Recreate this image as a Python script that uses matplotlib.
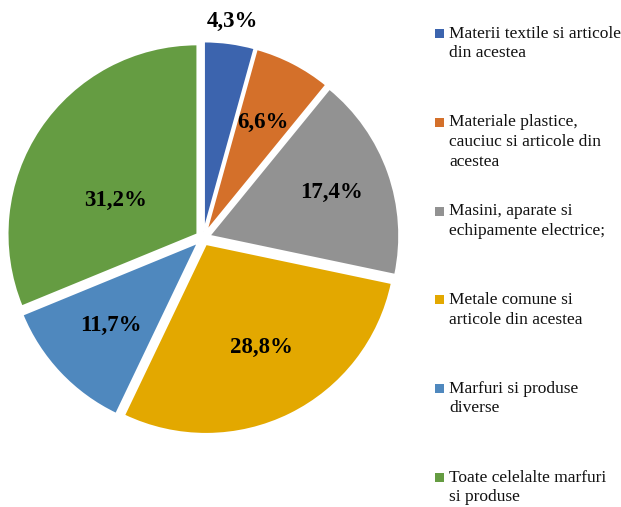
import numpy as np
import matplotlib.pyplot as plt
from matplotlib.patches import Rectangle

plt.rcParams['font.family'] = ['Liberation Serif', 'DejaVu Serif']

# Date: structura pe grupe de marfuri (%)
categorii = [
    "Materii textile si articole\ndin acestea",
    "Materiale plastice,\ncauciuc si articole din\nacestea",
    "Masini, aparate si\nechipamente electrice;",
    "Metale comune si\narticole din acestea",
    "Marfuri si produse\ndiverse",
    "Toate celelalte marfuri\nsi produse",
]
procente = [4.3, 6.6, 17.4, 28.8, 11.7, 31.2]
etichete = ["4,3%", "6,6%", "17,4%", "28,8%", "11,7%", "31,2%"]
culori = ['#3C64AE', '#D4702A', '#929292', '#E3A800', '#4F88BE', '#659C42']

# pozitia etichetelor (fractie din raza + deviere unghi), ca in Excel
dist_etichete = [1.115, 0.65, 0.68, 0.62, 0.635, 0.465]
unghi_ajust = [0, 0, 0, 2, 0, 11.5]

fig = plt.figure(figsize=(6.21, 5.07), dpi=100)
ax = fig.add_axes([3 / 621, (507 - 438) / 507, 400 / 621, 400 / 507])

wedges, _ = ax.pie(procente, colors=culori, startangle=90, counterclock=False,
                   explode=[0.035] * len(procente),
                   wedgeprops=dict(edgecolor='white', linewidth=1.5))
lim = 200 / 190
ax.set_xlim(-lim, lim)
ax.set_ylim(-lim, lim)
ax.set_aspect('equal')
ax.axis('off')

for w, txt, d, da in zip(wedges, etichete, dist_etichete, unghi_ajust):
    ang = np.deg2rad((w.theta1 + w.theta2) / 2 + da)
    cx, cy = w.center
    ax.text(cx + d * np.cos(ang), cy + d * np.sin(ang), txt,
            ha='center', va='center', fontsize=16.5, fontweight='bold', color='black')

# legenda (manuala, aliniata pe primul rand ca in Excel)
x0 = 435 / 621
for i, (lab, col) in enumerate(zip(categorii, culori)):
    y_c = 33.5 + i * 88.8
    fig.patches.append(Rectangle((x0, 1 - (y_c + 4.5) / 507), 9 / 621, 9 / 507,
                                 transform=fig.transFigure, facecolor=col,
                                 edgecolor='none'))
    fig.text(449 / 621, 1 - (y_c - 8) / 507, lab, ha='left', va='top',
             fontsize=12.5, linespacing=1.3, color='#111111')

fig.savefig('out.png', dpi=100)
